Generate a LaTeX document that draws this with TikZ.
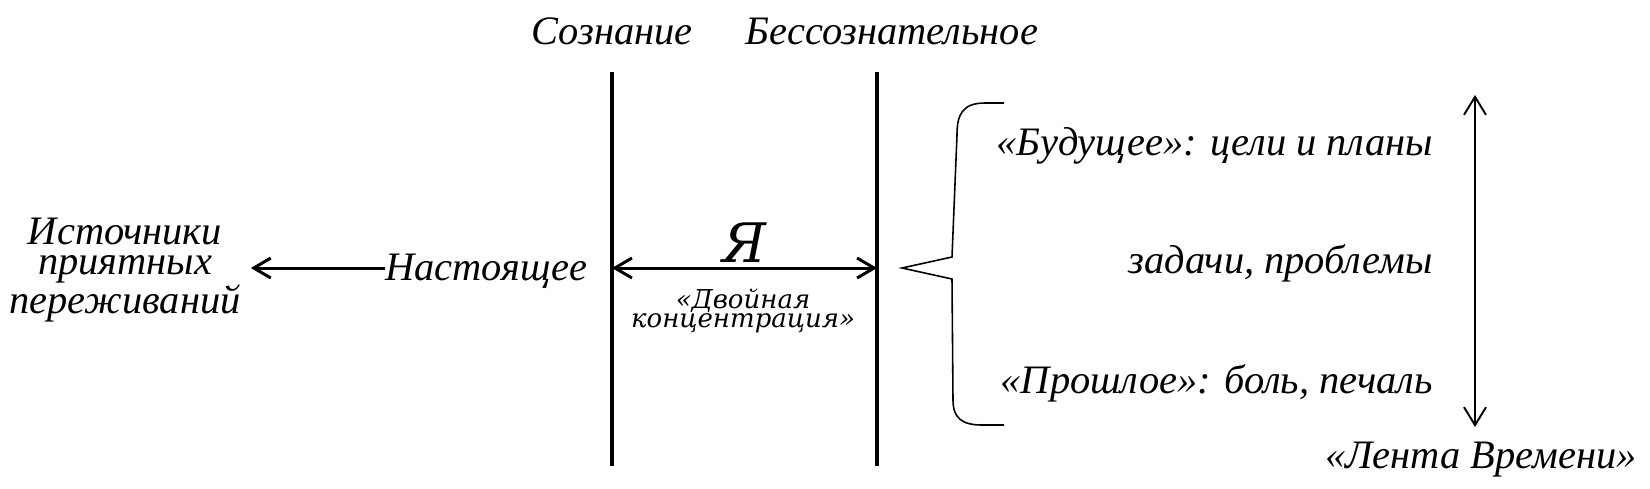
\documentclass[tikz,border=0pt]{standalone}
\usepackage{fontspec}
\setmainfont{Liberation Serif}
\newfontfamily\dvfont{DejaVu Serif}
\usetikzlibrary{arrows.meta}

\begin{document}
\begin{tikzpicture}[x=0.02cm,y=-0.02cm,
  lbl/.style={inner sep=0pt,font=\fontsize{23}{23}\selectfont\itshape},
  wall/.style={line width=2.8pt},
  link/.style={line width=1.7pt},
  >={Straight Barb[length=0.34cm,width=0.4cm]}]
\useasboundingbox (0,0) rectangle (1650,488);
\coordinate (sozTop) at (612,72);
\coordinate (sozBot) at (612,466);
\coordinate (besTop) at (877,72);
\coordinate (besBot) at (877,466);
\draw[wall] (sozTop) -- (sozBot);
\draw[wall] (besTop) -- (besBot);
\node[lbl,anchor=base] (soz) at (612,44) {Сознание};
\node[lbl,anchor=base] (bes) at (892,44) {Бессознательное};
\coordinate (yaL) at (612,268);
\coordinate (yaR) at (877,268);
\draw[link,<->] (yaL) -- (yaR);
\node[anchor=base,inner sep=0pt,font=\dvfont\fontsize{31}{31}\selectfont\itshape] (ya) at (744,262) {Я};
\node[align=center,inner sep=0pt,font=\dvfont\fontsize{14.8}{10.4}\selectfont\itshape] (dvk) at (743,311) {«Двойная\\концентрация»};
\node[lbl,anchor=base west] (nast) at (385,280) {Настоящее};
\node[lbl,align=center,font=\fontsize{23}{16.8}\selectfont\itshape] (ist) at (125,270) {Источники\\приятных\\переживаний};
\draw[link,->,shorten >=0.2cm] (nast.west |- yaL) -- (ist.east |- yaL);
\draw[line width=0.9pt] (1004,103) -- (985,103) .. controls (962,103) and (957,115) .. (957,135) -- (952,257) -- (902,268) -- (952,279) -- (953,400) .. controls (953,418) and (962,425) .. (982,425) -- (1004,425);
\node[lbl,anchor=base east] (fut) at (1433,155) {«Будущее»: цели и планы};
\node[lbl,anchor=base east] (task) at (1433,273) {задачи, проблемы};
\node[lbl,anchor=base east] (past) at (1433,393) {«Прошлое»: боль, печаль};
\coordinate (timeTop) at (1475,95);
\coordinate (timeBot) at (1475,427);
\draw[line width=1.1pt,{Straight Barb[length=0.36cm,width=0.44cm]}-{Straight Barb[length=0.36cm,width=0.44cm]}] (timeTop) -- (timeBot);
\node[lbl,anchor=base] (lenta) at (1481,468) {«Лента Времени»};
\end{tikzpicture}
\end{document}
